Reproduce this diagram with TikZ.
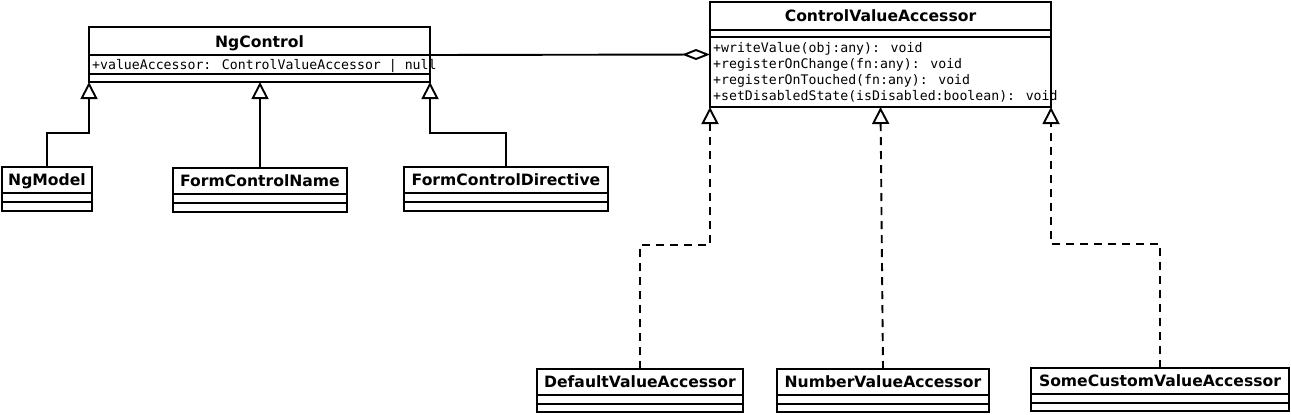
\documentclass[tikz,border=0pt]{standalone}
\usepackage{fontspec}
\setmainfont{DejaVu Sans}
\newfontfamily\monof{DejaVu Sans Mono}
\usetikzlibrary{arrows.meta}
\begin{document}
\begin{tikzpicture}[x=1pt,y=-1pt,
  cls/.style={draw, line width=1.9pt, inner sep=0pt, outer sep=0pt, anchor=north west},
  ttl/.style={font=\fontsize{15.6}{18}\selectfont\bfseries, inner sep=0pt, anchor=base},
  mono/.style={font=\monof\fontsize{13.2}{16}\selectfont, inner sep=0pt, anchor=base west},
  sepline/.style={line width=1.9pt},
  inh/.style={line width=1.9pt, -{Triangle[open,length=17pt,width=17pt]}},
  realize/.style={inh, dash pattern=on 8pt off 6pt},
  assoc/.style={line width=1.9pt, -{Diamond[open,length=28pt,width=11pt]}}]
\useasboundingbox (0,0) rectangle (1291,415);

% NgControl
\node[cls, minimum width=341pt, minimum height=55pt] (ngc) at (89,27) {};
\draw[sepline] (ngc.north west) ++(0,28) -- ++(341,0);
\draw[sepline] (ngc.north west) ++(0,47) -- ++(341,0);
\node[ttl] (ngct) at (259.5,47) {NgControl};
\node[mono] (ngca) at (92,69.5) {+valueAccessor: ControlValueAccessor | null};

% ControlValueAccessor
\node[cls, minimum width=341pt, minimum height=105pt] (cva) at (710,2) {};
\draw[sepline] (cva.north west) ++(0,28) -- ++(341,0);
\draw[sepline] (cva.north west) ++(0,35) -- ++(341,0);
\node[ttl] (cvat) at (880.5,21.5) {ControlValueAccessor};
\node[mono] (cvo1) at (713,52) {+writeValue(obj:any): void};
\node[mono] (cvo2) at (713,68) {+registerOnChange(fn:any): void};
\node[mono] (cvo3) at (713,84) {+registerOnTouched(fn:any): void};
\node[mono] (cvo4) at (713,100) {+setDisabledState(isDisabled:boolean): void};

% NgModel
\node[cls, minimum width=90pt, minimum height=44pt] (ngm) at (2,167) {};
\draw[sepline] (ngm.north west) ++(0,26) -- ++(90,0);
\draw[sepline] (ngm.north west) ++(0,35) -- ++(90,0);
\node[ttl] (ngmt) at (47,185) {NgModel};

% FormControlName
\node[cls, minimum width=174pt, minimum height=44pt] (fcn) at (173,168) {};
\draw[sepline] (fcn.north west) ++(0,26) -- ++(174,0);
\draw[sepline] (fcn.north west) ++(0,35) -- ++(174,0);
\node[ttl] (fcnt) at (260,186) {FormControlName};

% FormControlDirective
\node[cls, minimum width=204pt, minimum height=44pt] (fcd) at (404,167) {};
\draw[sepline] (fcd.north west) ++(0,26) -- ++(204,0);
\draw[sepline] (fcd.north west) ++(0,35) -- ++(204,0);
\node[ttl] (fcdt) at (506,185) {FormControlDirective};

% DefaultValueAccessor
\node[cls, minimum width=206pt, minimum height=43pt] (dva) at (537,369) {};
\draw[sepline] (dva.north west) ++(0,26) -- ++(206,0);
\draw[sepline] (dva.north west) ++(0,35) -- ++(206,0);
\node[ttl] (dvat) at (640,387) {DefaultValueAccessor};

% NumberValueAccessor
\node[cls, minimum width=212pt, minimum height=43pt] (nva) at (777,369) {};
\draw[sepline] (nva.north west) ++(0,26) -- ++(212,0);
\draw[sepline] (nva.north west) ++(0,35) -- ++(212,0);
\node[ttl] (nvat) at (883,387) {NumberValueAccessor};

% SomeCustomValueAccessor
\node[cls, minimum width=258pt, minimum height=43pt] (scva) at (1031,368) {};
\draw[sepline] (scva.north west) ++(0,26) -- ++(258,0);
\draw[sepline] (scva.north west) ++(0,35) -- ++(258,0);
\node[ttl] (scvat) at (1160,386) {SomeCustomValueAccessor};

% connectors
\coordinate (ngcr) at ([yshift=-28pt]ngc.north east);
\draw[assoc] (ngcr) -- (cva.west);
\draw[inh] (ngm.north) -- ++(0,-34) -| (ngc.south west);
\draw[inh] (fcn.north) -- (fcn.north |- ngc.south);
\draw[inh] (fcd.north) -- ++(0,-34) -| (ngc.south east);
\draw[realize] (dva.north) -- ++(0,-124) -| (cva.south west);
\draw[realize] (nva.north) -- (cva.south);
\draw[realize] (scva.north) -- ++(0,-124) -| (cva.south east);
\end{tikzpicture}
\end{document}
